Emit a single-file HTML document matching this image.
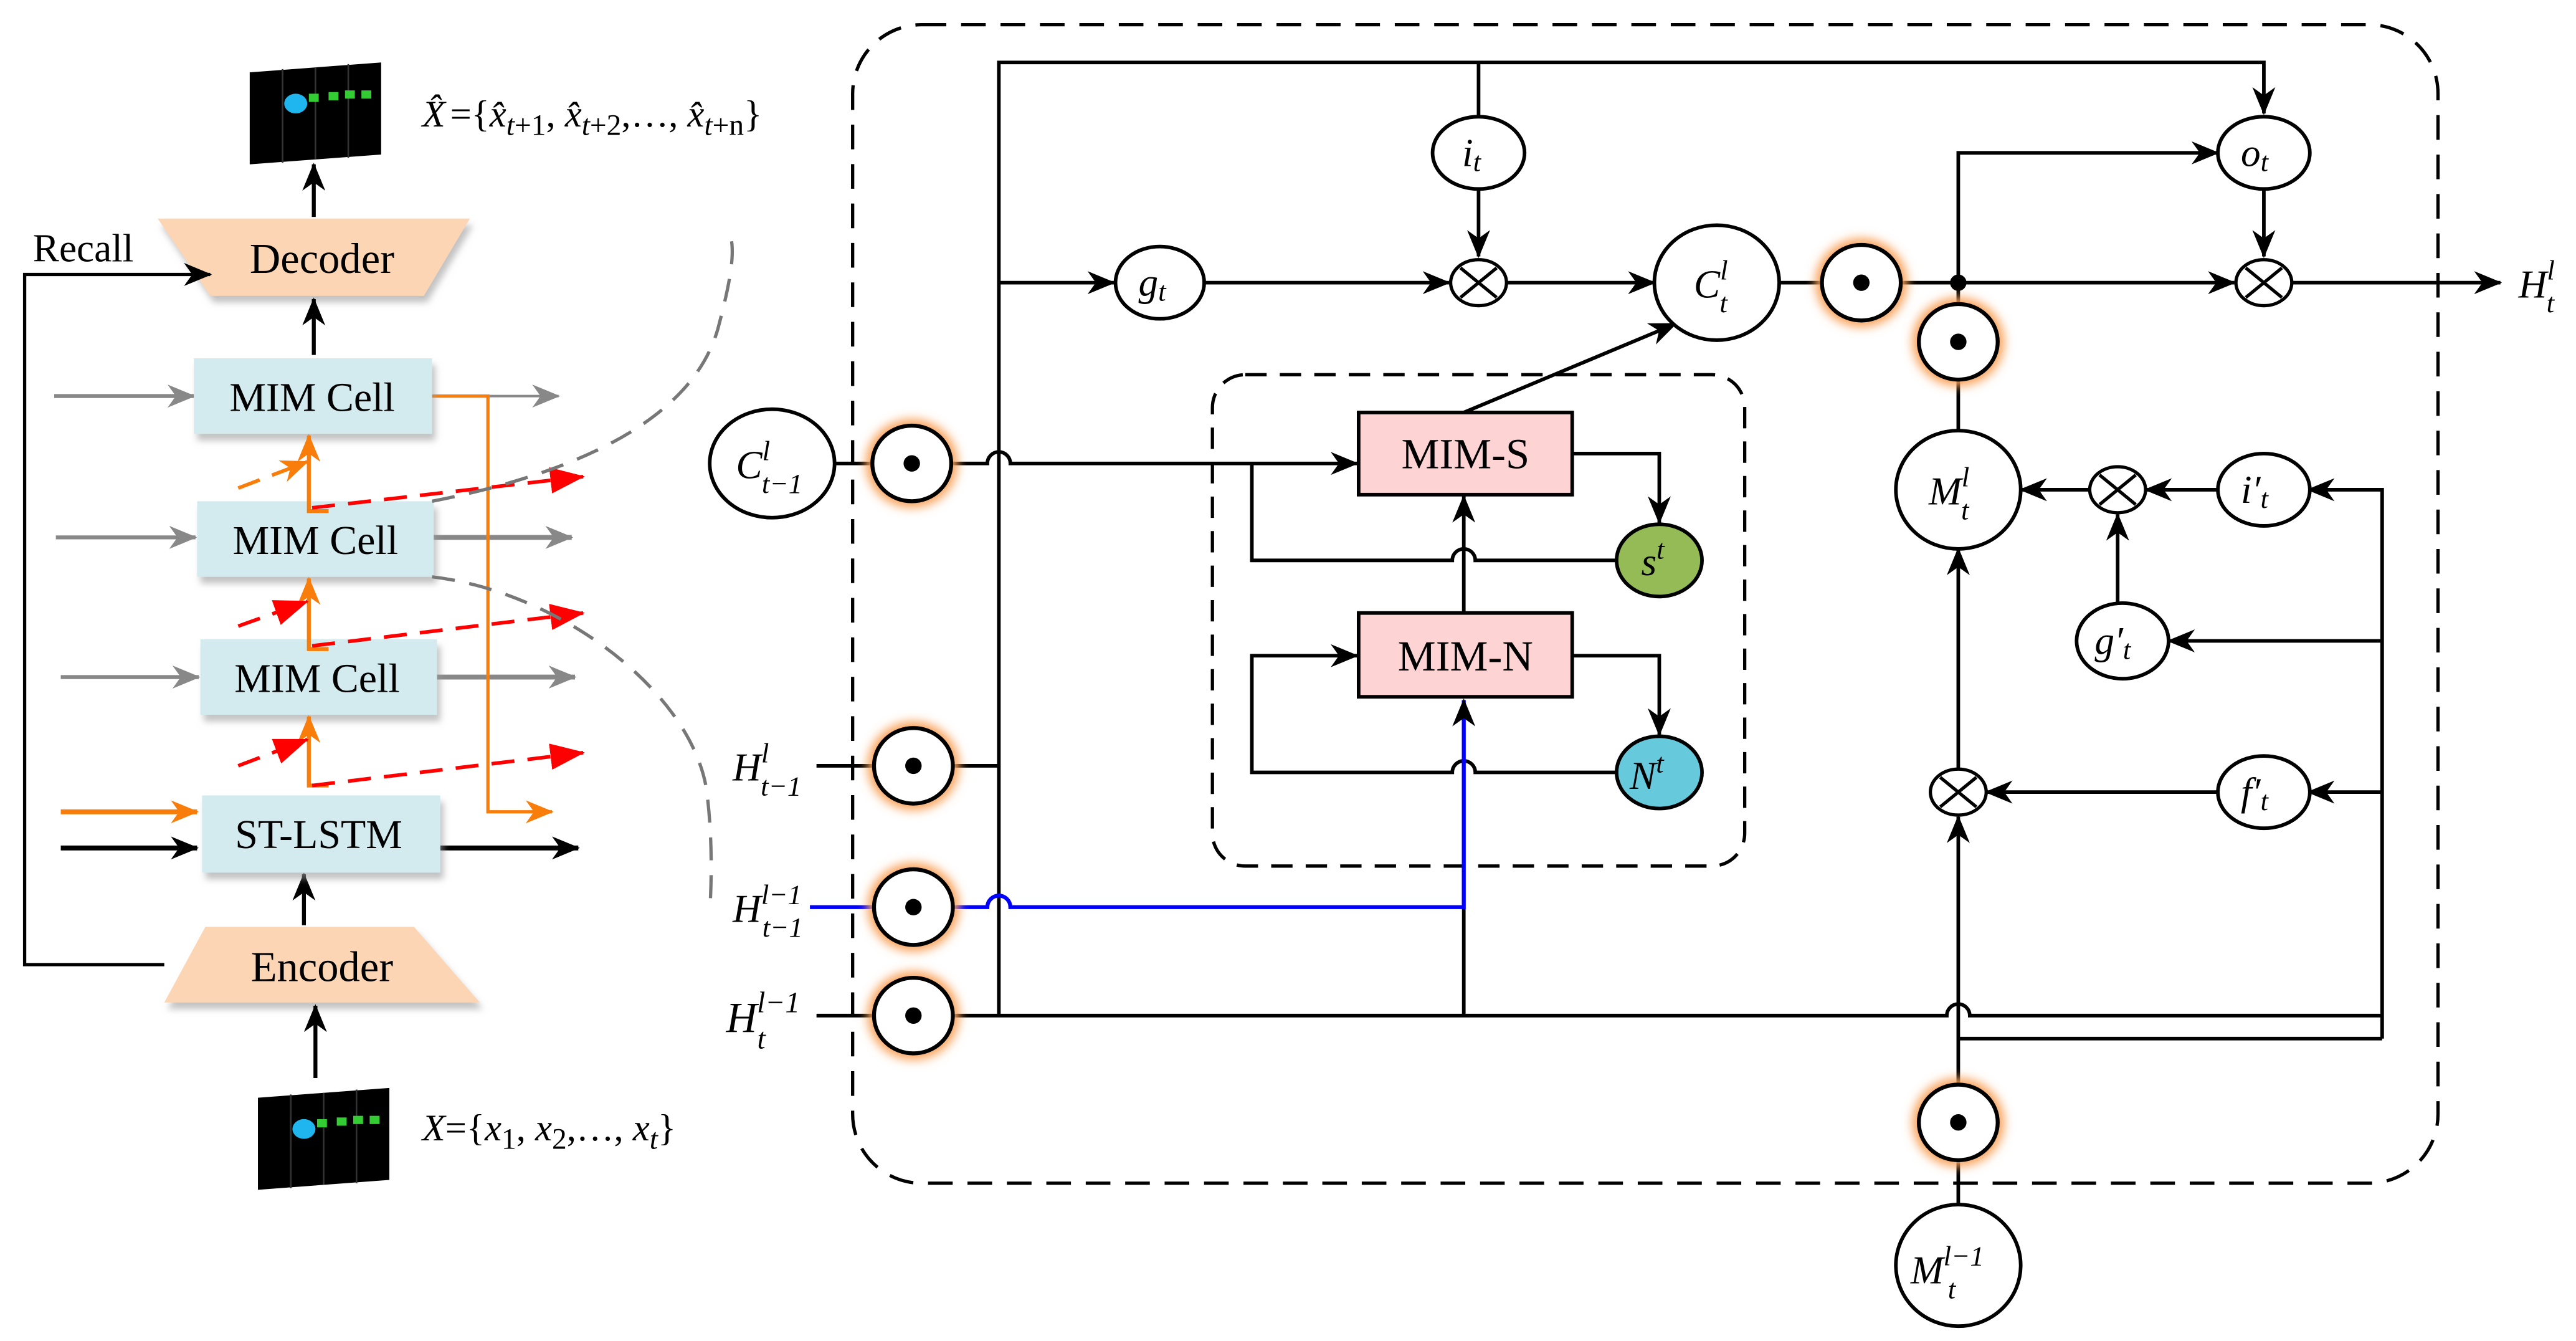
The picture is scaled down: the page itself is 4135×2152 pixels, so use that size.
<!DOCTYPE html>
<html><head><meta charset="utf-8"><style>
html,body{margin:0;padding:0;background:#fff;}
svg{display:block;}
text{font-family:"Liberation Serif",serif;fill:#000;}
.it{font-style:italic;}
</style></head><body>
<svg width="4135" height="2152" viewBox="0 0 1568 816" xmlns="http://www.w3.org/2000/svg">
<defs>
<marker id="a" markerUnits="userSpaceOnUse" markerWidth="18" markerHeight="14" refX="16" refY="7" orient="auto"><path d="M0,0 L17,7 L0,14 L5,7 z" fill="#000"/></marker>
<marker id="ag" markerUnits="userSpaceOnUse" markerWidth="18" markerHeight="14" refX="16" refY="7" orient="auto"><path d="M0,0 L17,7 L0,14 L5,7 z" fill="#888"/></marker>
<marker id="ao" markerUnits="userSpaceOnUse" markerWidth="18" markerHeight="14" refX="16" refY="7" orient="auto"><path d="M0,0 L17,7 L0,14 L5,7 z" fill="#f97d0a"/></marker>
<marker id="ar" markerUnits="userSpaceOnUse" markerWidth="22" markerHeight="16" refX="20" refY="8" orient="auto"><path d="M0,0 L21,8 L0,16 z" fill="#f00"/></marker>
<filter id="glow" x="-50%" y="-50%" width="200%" height="200%"><feGaussianBlur stdDeviation="3"/></filter>
<filter id="sh" x="-10%" y="-10%" width="130%" height="140%"><feDropShadow dx="2" dy="4" stdDeviation="2" flood-color="#999" flood-opacity="0.6"/></filter>
<g id="od"><ellipse rx="28" ry="27" fill="#f9a25a" filter="url(#glow)"/><ellipse rx="24" ry="23" fill="#fff" stroke="#000" stroke-width="2.4"/><circle r="5" fill="#000"/></g>
<g id="ox"><ellipse rx="17" ry="14" fill="#fff" stroke="#000" stroke-width="2"/><line x1="-11" y1="-9" x2="11" y2="9" stroke="#000" stroke-width="2"/><line x1="11" y1="-9" x2="-11" y2="9" stroke="#000" stroke-width="2"/></g>
<g id="img"><polygon points="0,6 80,0 80,56 0,62" fill="#000"/><line x1="20" y1="4" x2="20" y2="61" stroke="#333" stroke-width="1"/><line x1="40" y1="3" x2="40" y2="59" stroke="#333"/><line x1="60" y1="1" x2="60" y2="58" stroke="#333"/><ellipse cx="28" cy="25" rx="7" ry="6" fill="#1fb6ef"/><rect x="36" y="19" width="6" height="5" fill="#3c3"/><rect x="48" y="18" width="6" height="5" fill="#3c3"/><rect x="58" y="17" width="6" height="5" fill="#3c3"/><rect x="68" y="17" width="6" height="5" fill="#3c3"/></g>
</defs>

<use href="#img" x="152" y="38"/>
<text x="257" y="77" font-size="23" class="it">X̂</text>
<text x="274" y="77" font-size="23">={<tspan class="it">x̂</tspan><tspan font-size="18" dy="5" class="it">t</tspan><tspan font-size="18">+1</tspan><tspan dy="-5">, </tspan><tspan class="it">x̂</tspan><tspan font-size="18" dy="5" class="it">t</tspan><tspan font-size="18">+2</tspan><tspan dy="-5">,…, </tspan><tspan class="it">x̂</tspan><tspan font-size="18" dy="5" class="it">t</tspan><tspan font-size="18">+n</tspan><tspan dy="-5">}</tspan></text>
<use href="#img" x="157" y="662"/>
<text x="257" y="694" font-size="23"><tspan class="it">X</tspan>={<tspan class="it">x</tspan><tspan font-size="18" dy="5">1</tspan><tspan dy="-5">, </tspan><tspan class="it">x</tspan><tspan font-size="18" dy="5">2</tspan><tspan dy="-5">,…, </tspan><tspan class="it">x</tspan><tspan font-size="18" dy="5" class="it">t</tspan><tspan dy="-5">}</tspan></text>

<polygon points="96,133 286,133 258,180 128,180" fill="#fcd5b5" filter="url(#sh)"/>
<text x="196" y="166" font-size="26" text-anchor="middle">Decoder</text>
<polygon points="125,564 252,564 292,610 100,610" fill="#fcd5b5" filter="url(#sh)"/>
<text x="196" y="597" font-size="26" text-anchor="middle">Encoder</text>
<text x="20" y="159" font-size="24">Recall</text>
<polyline points="100,587 15,587 15,167 128,167" fill="none" stroke="#000" stroke-width="2" marker-end="url(#a)"/>
<line x1="191" y1="132" x2="191" y2="100" stroke="#000" stroke-width="2.4" marker-end="url(#a)"/>
<line x1="191" y1="216" x2="191" y2="182" stroke="#000" stroke-width="2.4" marker-end="url(#a)"/>
<line x1="185" y1="563" x2="185" y2="532" stroke="#000" stroke-width="2.4" marker-end="url(#a)"/>
<line x1="192" y1="656" x2="192" y2="612" stroke="#000" stroke-width="2.4" marker-end="url(#a)"/>

<g stroke="#888" stroke-width="2.4" fill="none">
<line x1="33" y1="241" x2="118" y2="241" marker-end="url(#ag)"/>
<line x1="34" y1="327" x2="119" y2="327" marker-end="url(#ag)"/>
<line x1="37" y1="412" x2="121" y2="412" marker-end="url(#ag)"/>
<line x1="263" y1="241" x2="340" y2="241" stroke-width="1.5" marker-end="url(#ag)"/>
<line x1="263" y1="327" x2="348" y2="327" stroke-width="3" marker-end="url(#ag)"/>
<line x1="266" y1="412" x2="350" y2="412" stroke-width="3" marker-end="url(#ag)"/>
</g>
<line x1="37" y1="494" x2="120" y2="494" stroke="#f97d0a" stroke-width="3" marker-end="url(#ao)"/>
<line x1="37" y1="516" x2="120" y2="516" stroke="#000" stroke-width="3" marker-end="url(#a)"/>
<line x1="268" y1="516" x2="352" y2="516" stroke="#000" stroke-width="3" marker-end="url(#a)"/>
<polyline points="263,241 297,241 297,494 336,494" fill="none" stroke="#f97d0a" stroke-width="2" marker-end="url(#ao)"/>

<g filter="url(#sh)" fill="#d3ebee">
<rect x="118" y="218" width="145" height="46"/>
<rect x="120" y="305" width="144" height="46"/>
<rect x="122" y="389" width="144" height="46"/>
<rect x="123" y="484" width="145" height="47"/>
</g>
<text x="190" y="250" font-size="25" text-anchor="middle">MIM Cell</text>
<text x="192" y="337" font-size="25" text-anchor="middle">MIM Cell</text>
<text x="193" y="421" font-size="25" text-anchor="middle">MIM Cell</text>
<text x="194" y="516" font-size="25" text-anchor="middle">ST-LSTM</text>

<g stroke="#f97d0a" stroke-width="2.4" fill="none">
<polyline points="200,478 188,478 188,436" marker-end="url(#ao)"/>
<polyline points="200,395 188,395 188,352" marker-end="url(#ao)"/>
<polyline points="200,311 188,311 188,265" marker-end="url(#ao)"/>
</g>
<g stroke="#f00" stroke-width="2.2" fill="none" stroke-dasharray="14,8">
<line x1="190" y1="478" x2="355" y2="458" marker-end="url(#ar)"/>
<line x1="190" y1="393" x2="355" y2="373" marker-end="url(#ar)"/>
<line x1="190" y1="309" x2="355" y2="290" marker-end="url(#ar)"/>
<line x1="145" y1="466" x2="187" y2="450" marker-end="url(#ar)"/>
<line x1="145" y1="381" x2="187" y2="366" marker-end="url(#ar)"/>
</g>
<line x1="145" y1="297" x2="187" y2="281" stroke="#f97d0a" stroke-width="2.2" stroke-dasharray="14,8" marker-end="url(#ao)"/>

<path d="M263,305 C340,290 420,260 437,200 C445,170 447,155 445,145" fill="none" stroke="#777" stroke-width="2" stroke-dasharray="14,9"/>
<path d="M263,351 C340,360 420,420 430,480 C434,510 433,540 432,555" fill="none" stroke="#777" stroke-width="2" stroke-dasharray="14,9"/>

<rect x="519" y="15" width="965" height="705" rx="42" fill="none" stroke="#000" stroke-width="2" stroke-dasharray="15,9"/>
<rect x="738" y="228" width="324" height="299" rx="20" fill="none" stroke="#000" stroke-width="2" stroke-dasharray="13,8"/>

<g stroke="#000" stroke-width="2.2" fill="none">
<polyline points="608,618 608,38 1378,38 1378,69" marker-end="url(#a)"/>
<line x1="900" y1="38" x2="900" y2="71"/>
<line x1="900" y1="115" x2="900" y2="156" marker-end="url(#a)"/>
<line x1="608" y1="172" x2="678" y2="172" marker-end="url(#a)"/>
<line x1="733" y1="172" x2="882" y2="172" marker-end="url(#a)"/>
<line x1="917" y1="172" x2="1007" y2="172" marker-end="url(#a)"/>
<line x1="1082" y1="172" x2="1108" y2="172"/>
<line x1="1158" y1="172" x2="1360" y2="172" marker-end="url(#a)"/>
<line x1="1395" y1="172" x2="1522" y2="172" marker-end="url(#a)"/>
<polyline points="1192,172 1192,93 1350,93" marker-end="url(#a)"/>
<line x1="1378" y1="115" x2="1378" y2="156" marker-end="url(#a)"/>
<line x1="1192" y1="172" x2="1192" y2="186"/>
<line x1="1192" y1="231" x2="1192" y2="262"/>
<line x1="1272" y1="298" x2="1230" y2="298" marker-end="url(#a)"/>
<line x1="1351" y1="298" x2="1306" y2="298" marker-end="url(#a)"/>
<line x1="1289" y1="367" x2="1289" y2="313" marker-end="url(#a)"/>
<line x1="1351" y1="482" x2="1209" y2="482" marker-end="url(#a)"/>
<line x1="1192" y1="468" x2="1192" y2="334" marker-end="url(#a)"/>
<line x1="1192" y1="660" x2="1192" y2="497" marker-end="url(#a)"/>
<line x1="1192" y1="706" x2="1192" y2="732"/>
<polyline points="1450,632 1450,298 1405,298" marker-end="url(#a)"/>
<line x1="1450" y1="390" x2="1320" y2="390" marker-end="url(#a)"/>
<line x1="1450" y1="482" x2="1405" y2="482" marker-end="url(#a)"/>
<line x1="1192" y1="632" x2="1450" y2="632"/>
<path d="M497,618 L531,618 M580,618 L1185,618 A7,7 0 0 1 1199,618 L1450,618"/>
<path d="M497,466 L531,466 M580,466 L608,466"/>
<path d="M508,282 L531,282 M580,282 L601,282 A7,7 0 0 1 615,282 L826,282" marker-end="url(#a)"/>
<polyline points="957,276 1010,276 1010,318" marker-end="url(#a)"/>
<path d="M983,341 L898,341 A7,7 0 0 0 884,341 L762,341 L762,282"/>
<line x1="891" y1="373" x2="891" y2="302" marker-end="url(#a)"/>
<polyline points="957,399 1010,399 1010,447" marker-end="url(#a)"/>
<path d="M983,470 L898,470 A7,7 0 0 0 884,470 L762,470 L762,399 L826,399" marker-end="url(#a)"/>
<line x1="891" y1="251" x2="1020" y2="197" marker-end="url(#a)"/>
<line x1="891" y1="618" x2="891" y2="552"/>
</g>
<path d="M493,552 L531,552 M580,552 L601,552 A7,7 0 0 1 615,552 L891,552 L891,426" fill="none" stroke="#00f" stroke-width="2.4" marker-end="url(#a)"/>

<g stroke="#000" stroke-width="2.2">
<ellipse cx="900" cy="93" rx="28" ry="22" fill="#fff"/>
<ellipse cx="706" cy="172" rx="27" ry="22" fill="#fff"/>
<ellipse cx="1045" cy="172" rx="38" ry="35" fill="#fff"/>
<ellipse cx="1378" cy="93" rx="28" ry="22" fill="#fff"/>
<ellipse cx="1192" cy="298" rx="38" ry="36" fill="#fff"/>
<ellipse cx="1378" cy="298" rx="28" ry="22" fill="#fff"/>
<ellipse cx="1292" cy="390" rx="28" ry="23" fill="#fff"/>
<ellipse cx="1378" cy="482" rx="28" ry="22" fill="#fff"/>
<ellipse cx="470" cy="282" rx="38" ry="33" fill="#fff"/>
<ellipse cx="1192" cy="770" rx="38" ry="37" fill="#fff"/>
<ellipse cx="1010" cy="341" rx="26" ry="22" fill="#94bb56"/>
<ellipse cx="1010" cy="470" rx="26" ry="22" fill="#67c9dc"/>
<rect x="827" y="251" width="130" height="50" fill="#fdd3d3"/>
<rect x="827" y="373" width="130" height="51" fill="#fdd3d3"/>
</g>
<use href="#ox" x="900" y="172"/>
<use href="#ox" x="1378" y="172"/>
<use href="#ox" x="1289" y="298"/>
<use href="#ox" x="1192" y="482"/>
<circle cx="1192" cy="172" r="5" fill="#000"/>
<use href="#od" x="555" y="282"/>
<use href="#od" x="556" y="466"/>
<use href="#od" x="556" y="552"/>
<use href="#od" x="556" y="618"/>
<use href="#od" x="1133" y="172"/>
<use href="#od" x="1192" y="208"/>
<use href="#od" x="1192" y="683"/>

<text x="892" y="285" font-size="26" text-anchor="middle">MIM-S</text>
<text x="892" y="408" font-size="26" text-anchor="middle">MIM-N</text>

<g font-size="24" class="it">
<text x="890" y="101" class="it">i<tspan font-size="17" dy="3">t</tspan></text>
<text x="693" y="180" class="it">g<tspan font-size="17" dy="3">t</tspan></text>
<text x="1364" y="101" class="it">o<tspan font-size="17" dy="3">t</tspan></text>
<text x="1031" y="181" class="it">C<tspan font-size="17" dy="-11">l</tspan><tspan font-size="17" dx="-5" dy="20">t</tspan></text>
<text x="448" y="291" class="it">C<tspan font-size="17" dy="-11">l</tspan><tspan font-size="17" dx="-5" dy="20">t−1</tspan></text>
<text x="1174" y="307" class="it">M<tspan font-size="17" dy="-11">l</tspan><tspan font-size="17" dx="-5" dy="20">t</tspan></text>
<text x="1163" y="781" class="it">M<tspan font-size="17" dy="-11">l−1</tspan><tspan font-size="17" dx="-22" dy="20">t</tspan></text>
<text x="1364" y="306" class="it">i′<tspan font-size="17" dy="3">t</tspan></text>
<text x="1275" y="398" class="it">g′<tspan font-size="17" dy="3">t</tspan></text>
<text x="1364" y="490" class="it">f′<tspan font-size="17" dy="3">t</tspan></text>
<text x="999" y="350" class="it">s<tspan font-size="17" dy="-10">t</tspan></text>
<text x="992" y="480" class="it">N<tspan font-size="17" dy="-10">t</tspan></text>
<text x="1533" y="181" class="it">H<tspan font-size="17" dy="-11">l</tspan><tspan font-size="17" dx="-5" dy="20">t</tspan></text>
<text x="446" y="475" class="it">H<tspan font-size="17" dy="-11">l</tspan><tspan font-size="17" dx="-5" dy="20">t−1</tspan></text>
<text x="446" y="561" class="it">H<tspan font-size="17" dy="-11">l−1</tspan><tspan font-size="17" dx="-24" dy="20">t−1</tspan></text>
<text x="442" y="628" font-size="26" class="it">H<tspan font-size="18" dy="-12">l−1</tspan><tspan font-size="18" dx="-26" dy="22">t</tspan></text>
</g>
</svg>
</body></html>
